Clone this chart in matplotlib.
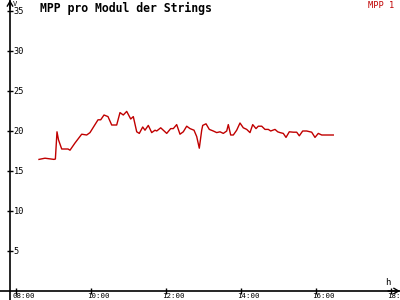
import matplotlib
matplotlib.use("Agg")
import matplotlib.pyplot as plt
import matplotlib.transforms as mtransforms

# time of day in decimal hours, MPP voltage per module (V)
hours = [8.613, 8.773, 9.013, 9.05, 9.093, 9.133, 9.219, 9.387, 9.44, 9.573,
         9.752, 9.885, 9.973, 10.187, 10.259, 10.347, 10.453, 10.552, 10.685, 10.773,
         10.861, 10.952, 11.059, 11.128, 11.219, 11.288, 11.379, 11.44, 11.528, 11.619,
         11.707, 11.752, 11.859, 12.019, 12.125, 12.195, 12.285, 12.373, 12.461, 12.552,
         12.64, 12.747, 12.819, 12.888, 12.952, 12.979, 13.067, 13.155, 13.261, 13.352,
         13.44, 13.528, 13.619, 13.661, 13.725, 13.795, 13.885, 13.973, 14.061, 14.152,
         14.24, 14.312, 14.4, 14.461, 14.552, 14.64, 14.728, 14.792, 14.907, 14.979,
         15.04, 15.128, 15.2, 15.288, 15.395, 15.485, 15.555, 15.645, 15.752, 15.885,
         15.973, 16.061, 16.152, 16.461]
volts = [16.45, 16.6, 16.45, 16.5, 19.9, 18.9, 17.75, 17.75, 17.6, 18.5,
         19.6, 19.5, 19.8, 21.4, 21.4, 22.0, 21.8, 20.75, 20.75, 22.3,
         22.0, 22.45, 21.5, 21.8, 19.9, 19.7, 20.5, 20.1, 20.7, 19.8,
         20.1, 20.0, 20.4, 19.7, 20.3, 20.3, 20.8, 19.6, 19.9, 20.6,
         20.3, 20.1, 19.3, 17.85, 20.1, 20.7, 20.9, 20.2, 20.0, 19.8,
         19.9, 19.7, 20.0, 20.8, 19.5, 19.5, 20.1, 21.0, 20.4, 20.2,
         19.8, 20.8, 20.3, 20.6, 20.6, 20.2, 20.2, 20.0, 20.2, 19.9,
         19.8, 19.7, 19.2, 19.9, 19.85, 19.85, 19.4, 20.0, 20.0, 19.85,
         19.2, 19.7, 19.5, 19.5]

x_ticks = [8, 10, 12, 14, 16, 18]
x_labels = ["08:00", "10:00", "12:00", "14:00", "16:00", "18:00"]
y_ticks = [5, 10, 15, 20, 25, 30, 35]

title = "MPP pro Modul der Strings"
series_name = "MPP 1"
red = "#c00000"
mono = "DejaVu Sans Mono"

fig = plt.figure(figsize=(4, 3), dpi=100)
ax = fig.add_axes([0, 0, 1, 1])
ax.set_xlim(7.5733, 18.24)
ax.set_ylim(-1.125, 36.375)
y_axis_x = 7.84

ax.plot(hours, volts, color=red, lw=1.0)

for s in ax.spines.values():
    s.set_visible(False)
ax.spines["left"].set_visible(True)
ax.spines["left"].set_position(("data", y_axis_x))
ax.spines["bottom"].set_visible(True)
ax.spines["bottom"].set_position(("data", 0))
ax.spines["left"].set_linewidth(1.2)
ax.spines["bottom"].set_linewidth(1.2)

ax.set_xticks(x_ticks)
ax.set_xticklabels(x_labels, fontsize=5.4, family=mono)
ax.set_yticks(y_ticks)
ax.set_yticklabels([str(v) for v in y_ticks], fontsize=6.2, family=mono)
ax.tick_params(axis="both", direction="inout", length=5, width=1, pad=-0.8)
ax.tick_params(axis="y", pad=-5.2)
for lab in ax.get_yticklabels():
    lab.set_horizontalalignment("left")
shift = mtransforms.ScaledTranslation(-4 / 100, 0, fig.dpi_scale_trans)
for lab in ax.get_xticklabels():
    lab.set_horizontalalignment("left")
    lab.set_transform(lab.get_transform() + shift)

# open arrow heads at the axis ends
arrow = dict(arrowstyle="->,head_length=0.35,head_width=0.2", color="black",
             lw=1, shrinkA=0, shrinkB=0)
ax.annotate("", xy=(1.0, 0), xytext=(0.97, 0),
            xycoords=ax.get_yaxis_transform(), textcoords=ax.get_yaxis_transform(),
            arrowprops=arrow, annotation_clip=False)
ax.annotate("", xy=(y_axis_x, 1.0), xytext=(y_axis_x, 0.97),
            xycoords=ax.get_xaxis_transform(), textcoords=ax.get_xaxis_transform(),
            arrowprops=arrow, annotation_clip=False)

fig.text(13 / 400, 1 - 0.5 / 300, "V", fontsize=5.0, family=mono, va="top", ha="left")
fig.text(385 / 400, 1 - 278 / 300, "h", fontsize=6.5, family=mono, va="top", ha="left")
fig.text(40 / 400, 1 - 2 / 300, title, fontsize=8.3, family=mono,
         fontweight="bold", va="top", ha="left")
fig.text(394 / 400, 1 - 1 / 300, series_name, fontsize=6.2, family=mono,
         color=red, va="top", ha="right")

fig.savefig("out.png", dpi=100)
